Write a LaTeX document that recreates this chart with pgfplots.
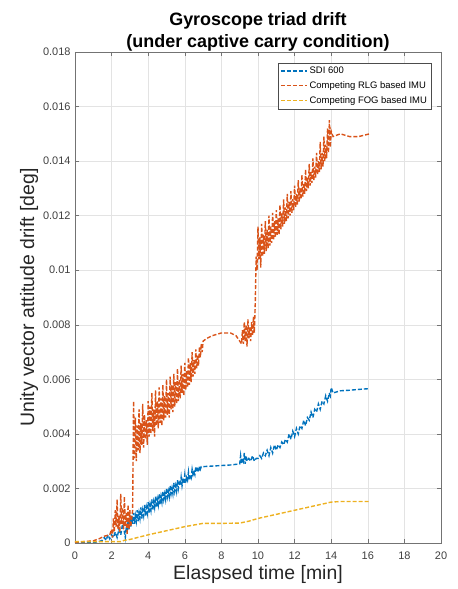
\documentclass[border=0pt]{standalone}
\usepackage{fontspec}
\setmainfont{Liberation Sans}
\usepackage{pgfplots}
\pgfplotsset{compat=1.18}
\definecolor{mblue}{rgb}{0,0.447,0.741}
\definecolor{morange}{rgb}{0.85,0.325,0.098}
\definecolor{myellow}{rgb}{0.929,0.694,0.125}
\begin{document}
\begin{tikzpicture}
\begin{axis}[
  scale only axis, width=366bp, height=491bp,
  xmin=0, xmax=20, ymin=0, ymax=0.018,
  xtick={0,2,...,20},
  ytick={0,0.002,0.004,0.006,0.008,0.01,0.012,0.014,0.016,0.018},
  yticklabels={0,0.002,0.004,0.006,0.008,0.01,0.012,0.014,0.016,0.018},
  scaled y ticks=false,
  /pgf/number format/assume math mode=true,
  tick label style={font=\fontsize{11}{13}\selectfont, text=black!75},
  xticklabel style={yshift=-5bp},
  yticklabel style={xshift=-1bp},
  tick align=inside, major tick length=4bp,
  axis line style={black!55}, every tick/.style={black!55},
  grid=major, major grid style={gray!22, line width=0.5bp},
  title={Gyroscope triad drift\\(under captive carry condition)},
  title style={at={(axis description cs:0.5,1)}, anchor=center, yshift=14bp, align=center, font=\bfseries\fontsize{18}{22}\selectfont},
  xlabel={Elaspsed time [min]},
  ylabel={Unity vector attitude drift [deg]},
  every axis x label/.style={at={(axis description cs:0.5,0)}, anchor=center, yshift=-31bp, font=\fontsize{19.5}{22}\selectfont, text=black!85},
  every axis y label/.style={at={(axis description cs:-0.1257,0.5)}, rotate=90, anchor=center, font=\fontsize{19.5}{22}\selectfont, text=black!85},
  legend style={at={(rel axis cs:0.973,0.978)}, anchor=north east, font=\fontsize{9.5}{11}\selectfont, draw=black!70, fill=white, inner sep=2bp, row sep=2.5bp},
  legend cell align=left,
  legend image code/.code={\draw[#1] (0bp,0bp) -- (26bp,0bp);},
  every axis plot/.append style={line width=1.4bp, dash pattern=on 4bp off 2bp},
]
\addplot[color=mblue] coordinates {
(0,0) (1.0,0.00002) (1.3,0.00005) (1.5,0.0001) (1.6,0.0002) (1.7,0.0001) (1.8,0.0003) (1.9,0.00015) (2.0,0.0003) (2.1,0.0002) (2.2,0.0004) (2.3,0.0002) (2.4,0.0005) (2.5,0.0003) (2.6,0.0007) (2.7,0.0004) (2.75,0.0002) (2.8,0.0006) (2.85,0.0004) (2.9,0.0008) (2.95,0.0005)
(3.00,0.0009) (3.05,0.0006) (3.10,0.0010) (3.15,0.0007) (3.20,0.0011) (3.25,0.0007) (3.30,0.0010) (3.35,0.0008) (3.40,0.0012) (3.45,0.0008) (3.50,0.0011) (3.55,0.0009) (3.60,0.0013) (3.65,0.0009) (3.70,0.0012) (3.75,0.0010) (3.80,0.0014) (3.85,0.0010) (3.90,0.0013) (3.95,0.0011)
(4.00,0.0015) (4.05,0.0011) (4.10,0.0014) (4.15,0.0012) (4.20,0.0016) (4.25,0.0012) (4.30,0.0015) (4.35,0.0013) (4.40,0.0017) (4.45,0.0013) (4.50,0.0016) (4.55,0.0014) (4.60,0.0018) (4.65,0.0014) (4.70,0.0017) (4.75,0.0015) (4.80,0.0019) (4.85,0.0016) (4.90,0.0018) (4.95,0.0016)
(5.00,0.0020) (5.05,0.0017) (5.10,0.0019) (5.15,0.0017) (5.20,0.0021) (5.25,0.0018) (5.30,0.0020) (5.35,0.0018) (5.40,0.0022) (5.45,0.0019) (5.50,0.0021) (5.55,0.0019) (5.60,0.0023) (5.65,0.0020) (5.70,0.0022) (5.75,0.0021) (5.80,0.0024) (5.85,0.0021) (5.90,0.0023) (5.95,0.0022)
(6.00,0.0025) (6.05,0.0022) (6.10,0.0024) (6.15,0.0023) (6.20,0.0026) (6.25,0.0023) (6.30,0.0025) (6.35,0.0024) (6.40,0.0027) (6.45,0.0025) (6.50,0.0026) (6.55,0.0025) (6.60,0.0028) (6.65,0.0026) (6.70,0.0027) (6.75,0.0026) (6.80,0.0028) (6.85,0.0027) (6.90,0.0028) (6.95,0.0028)
(7.00,0.0028) (7.5,0.00282) (8.0,0.00284) (8.5,0.00286) (9.0,0.0029)
(9.05,0.0032) (9.1,0.0029) (9.15,0.0031) (9.2,0.0030) (9.25,0.0033) (9.3,0.0029) (9.35,0.0032) (9.4,0.0030) (9.5,0.0031) (9.6,0.0030) (9.7,0.0032) (9.8,0.0030) (9.9,0.0031) (10.0,0.0031)
(10.1,0.0032) (10.2,0.0031) (10.3,0.0033) (10.4,0.0032) (10.5,0.0034) (10.6,0.0032) (10.7,0.0035) (10.8,0.0033) (10.9,0.0036) (11.0,0.0034) (11.1,0.0036) (11.2,0.0035) (11.3,0.0037) (11.4,0.0036) (11.5,0.0038) (11.6,0.0037) (11.7,0.0040) (11.8,0.0038) (11.9,0.0041)
(12.0,0.0039) (12.1,0.0042) (12.2,0.0040) (12.3,0.0043) (12.4,0.0042) (12.5,0.0045) (12.6,0.0043) (12.7,0.0046) (12.8,0.0045) (12.9,0.0048) (13.0,0.0046) (13.1,0.0049) (13.2,0.0048) (13.3,0.0051) (13.4,0.0049) (13.5,0.0052) (13.6,0.0051) (13.7,0.0054) (13.8,0.0052) (13.9,0.0055) (13.95,0.0054) (14.0,0.0057)
(14.1,0.0055) (14.5,0.00558) (15.0,0.0056) (15.5,0.00563) (16.1,0.00566)
};
\addlegendentry{SDI 600}
\addplot[color=morange] coordinates {
(0,0.00003) (0.5,0.00005) (1.0,0.00008) (1.3,0.00015) (1.6,0.00025) (1.9,0.0003) (2.0,0.0005) (2.05,0.0002) (2.1,0.0009) (2.15,0.0004) (2.2,0.0012) (2.25,0.0006) (2.3,0.0016) (2.35,0.0005) (2.4,0.0010) (2.45,0.0004) (2.5,0.0018) (2.55,0.0007) (2.6,0.0013) (2.65,0.0005) (2.7,0.0017) (2.75,0.0006) (2.8,0.0011) (2.85,0.0003) (2.9,0.0014) (2.95,0.0005) (3.0,0.0012) (3.05,0.0006) (3.1,0.0009) (3.15,0.0012)
(3.20,0.0052) (3.25,0.0031) (3.30,0.0046) (3.35,0.0030) (3.40,0.0043) (3.45,0.0034) (3.50,0.0049) (3.55,0.0033) (3.60,0.0044) (3.65,0.0036) (3.70,0.0051) (3.75,0.0035) (3.80,0.0047) (3.85,0.0038) (3.90,0.0045) (3.95,0.0036)
(4.00,0.0052) (4.05,0.0039) (4.10,0.0050) (4.15,0.0040) (4.20,0.0055) (4.25,0.0041) (4.30,0.0049) (4.35,0.0039) (4.40,0.0056) (4.45,0.0043) (4.50,0.0052) (4.55,0.0042) (4.60,0.0057) (4.65,0.0044) (4.70,0.0053) (4.75,0.0043) (4.80,0.0058) (4.85,0.0045) (4.90,0.0054) (4.95,0.0046)
(5.00,0.0060) (5.05,0.0047) (5.10,0.0055) (5.15,0.0046) (5.20,0.0061) (5.25,0.0049) (5.30,0.0058) (5.35,0.0048) (5.40,0.0062) (5.45,0.0050) (5.50,0.0059) (5.55,0.0051) (5.60,0.0064) (5.65,0.0052) (5.70,0.0060) (5.75,0.0053) (5.80,0.0065) (5.85,0.0055) (5.90,0.0062) (5.95,0.0054)
(6.00,0.0066) (6.05,0.0056) (6.10,0.0063) (6.15,0.0057) (6.20,0.0068) (6.25,0.0058) (6.30,0.0066) (6.35,0.0059) (6.40,0.0070) (6.45,0.0061) (6.50,0.0067) (6.55,0.0062) (6.60,0.0071) (6.65,0.0064) (6.70,0.0069) (6.75,0.0065) (6.80,0.0072) (6.85,0.0068) (6.90,0.0073) (6.95,0.0070)
(7.00,0.0074) (7.2,0.0075) (7.5,0.0076) (8.0,0.0077) (8.5,0.0077) (8.8,0.0076) (9.0,0.0074) (9.1,0.0073)
(9.15,0.0078) (9.2,0.0073) (9.25,0.0081) (9.3,0.0074) (9.35,0.0080) (9.4,0.0072) (9.45,0.0082) (9.5,0.0075) (9.55,0.0079) (9.6,0.0074) (9.65,0.0081) (9.7,0.0076) (9.75,0.0083) (9.8,0.0077) (9.85,0.0088) (9.9,0.0105) (9.95,0.0100)
(10.0,0.0116) (10.05,0.0104) (10.1,0.0112) (10.15,0.0101) (10.2,0.0117) (10.25,0.0105) (10.3,0.0113) (10.35,0.0106) (10.4,0.0118) (10.45,0.0107) (10.5,0.0115) (10.55,0.0108) (10.6,0.0120) (10.65,0.0109) (10.7,0.0116) (10.75,0.0110) (10.8,0.0121) (10.85,0.0111) (10.9,0.0118) (10.95,0.0112)
(11.0,0.0122) (11.05,0.0113) (11.1,0.0119) (11.15,0.0113) (11.2,0.0124) (11.25,0.0115) (11.3,0.0121) (11.35,0.0116) (11.4,0.0126) (11.45,0.0117) (11.5,0.0123) (11.55,0.0118) (11.6,0.0128) (11.65,0.0119) (11.7,0.0125) (11.75,0.0120) (11.8,0.0129) (11.85,0.0121) (11.9,0.0126) (11.95,0.0122)
(12.0,0.0131) (12.05,0.0123) (12.1,0.0128) (12.15,0.0124) (12.2,0.0133) (12.25,0.0125) (12.3,0.0130) (12.35,0.0126) (12.4,0.0135) (12.45,0.0127) (12.5,0.0132) (12.55,0.0128) (12.6,0.0137) (12.65,0.0129) (12.7,0.0134) (12.75,0.0130) (12.8,0.0139) (12.85,0.0131) (12.9,0.0136) (12.95,0.0132)
(13.0,0.0141) (13.05,0.0133) (13.1,0.0138) (13.15,0.0134) (13.2,0.0143) (13.25,0.0135) (13.3,0.0140) (13.35,0.0136) (13.4,0.0147) (13.45,0.0137) (13.5,0.0143) (13.55,0.0138) (13.6,0.0149) (13.65,0.0140) (13.7,0.0146) (13.75,0.0141) (13.8,0.0152) (13.85,0.0143) (13.9,0.0155) (13.95,0.0145)
(14.0,0.0151) (14.1,0.0149) (14.5,0.0150) (15.0,0.0149) (15.5,0.0149) (16.1,0.0150)
};
\addlegendentry{Competing RLG based IMU}
\addplot[color=myellow] coordinates {
(0,0.00005) (1,0.00005) (2,0.00005) (2.5,0.00005) (2.7,0.0001) (3,0.00013) (4,0.0003) (5,0.00045) (6,0.0006) (7,0.00072) (8,0.00072) (9,0.00073) (9.5,0.0008) (10,0.0009) (11,0.00105) (12,0.0012) (13,0.00135) (14,0.0015) (14.5,0.00152) (16.1,0.00152)
};
\addlegendentry{Competing FOG based IMU}
\end{axis}
\pgfresetboundingbox
\path[use as bounding box] ([shift={(-75bp,-46bp)}]current axis.south west) rectangle ([shift={(17bp,52bp)}]current axis.north east);
\end{tikzpicture}
\end{document}
